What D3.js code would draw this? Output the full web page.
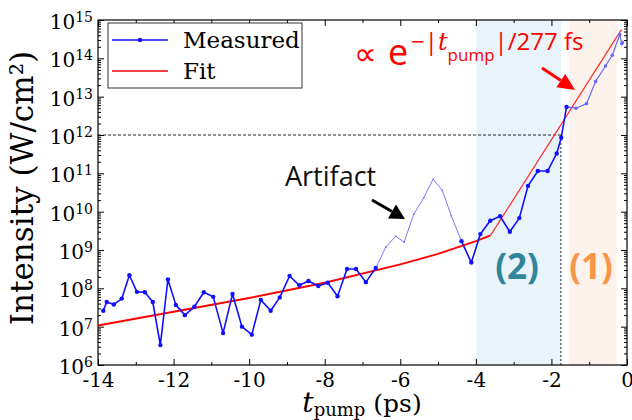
<!DOCTYPE html>
<html>
<head>
<meta charset="utf-8">
<script src="https://cdn.jsdelivr.net/npm/d3@7"></script>
<style>
  body { margin: 0; background: #fff; }
  svg { display: block; }
</style>
</head>
<body>
<script>
// measured intensity (W/cm^2) vs pump delay (ps), split where the trace changes style
const earlyT = [-13.86, -13.77, -13.58, -13.37, -13.17, -12.97, -12.76, -12.55, -12.35, -12.15,
    -11.94, -11.70, -11.45, -11.20, -10.95, -10.69, -10.44, -10.19, -9.93, -9.69,
    -9.43, -9.19, -8.93, -8.67, -8.43, -8.17, -7.92, -7.66, -7.41, -7.17, -6.91, -6.65];
const earlyI = [2.6e7, 4.4e7, 3.8e7, 5.4e7, 2.2e8, 8.1e7, 7.9e7, 4.4e7, 3.3e6, 1.7e8,
    3.7e7, 2.0e7, 3.3e7, 7.9e7, 6.0e7, 6.8e6, 7.1e7, 1.0e7, 6.2e6, 5.0e7,
    2.6e7, 5.8e7, 2.1e8, 1.2e8, 1.55e8, 1.15e8, 1.4e8, 6.2e7, 3.2e8, 3.2e8, 1.45e8, 3.4e8];
const artifactT = [-6.38, -6.12, -5.90, -5.64, -5.38, -5.13, -4.89, -4.65];
const artifactI = [1.2e9, 2.3e9, 1.6e9, 8.7e9, 2.3e10, 7.1e10, 3.6e10, 7.8e9];
const riseT = [-4.38, -4.12, -3.88, -3.62, -3.36, -3.10, -2.85, -2.62, -2.36, -2.10, -1.86, -1.74, -1.60];
const riseI = [1.7e9, 4.7e8, 2.6e9, 5.8e9, 7.6e9, 3.0e9, 6.8e9, 4.7e10, 1.15e11, 1.15e11, 3.3e11, 8.5e11, 5.4e12];
const peakT = [-1.35, -1.07, -0.83, -0.57, -0.39, -0.19, -0.14, -0.12];
const peakI = [5.0e12, 6.6e12, 2.5e13, 6.3e13, 1.2e14, 4.2e14, 2.4e14, 2.6e14];

// fit: slow rise then exp(-|t|/277 fs)
const fitT = [-14, -12, -10, -8, -6, -5, -4, -3.61, -0.15];
const fitI = [1.07e7, 2.45e7, 5.6e7, 1.4e8, 4.2e8, 7.9e8, 1.7e9, 2.4e9, 5.6e14];

const region2 = [-4, -1.75];
const region1 = [-1.54, -0.27];
const thresholdT = -1.75;
const thresholdI = 1e12;

const xTicks = [-14, -12, -10, -8, -6, -4, -2, 0];
const xMinor = [-13, -11, -9, -7, -5, -3, -1];
const yExps = [6, 7, 8, 9, 10, 11, 12, 13, 14, 15];

const width = 632, height = 420;
const mLeft = 98, mRight = 627, mTop = 20, mBottom = 365;
const serif = "'DejaVu Serif', serif";
const sans = "'Open Sans', 'DejaVu Sans', sans-serif";

const svg = d3.select("body").append("svg")
    .attr("width", width)
    .attr("height", height);

const x = d3.scaleLinear().domain([-14, 0]).range([mLeft, mRight]);
const y = d3.scaleLog().domain([1e6, 1e15]).range([mBottom, mTop]);

// shaded regions
svg.append("rect")
    .attr("x", x(region2[0])).attr("y", mTop)
    .attr("width", x(region2[1]) - x(region2[0])).attr("height", mBottom - mTop)
    .attr("fill", "#e8f4fa");
svg.append("rect")
    .attr("x", x(region1[0])).attr("y", mTop)
    .attr("width", x(region1[1]) - x(region1[0])).attr("height", mBottom - mTop)
    .attr("fill", "#fef3ec");

// threshold guide lines
svg.append("line")
    .attr("x1", mLeft).attr("x2", x(thresholdT))
    .attr("y1", y(thresholdI)).attr("y2", y(thresholdI))
    .attr("stroke", "#222").attr("stroke-width", 1).attr("stroke-dasharray", "3,2");
svg.append("line")
    .attr("x1", x(thresholdT)).attr("x2", x(thresholdT))
    .attr("y1", y(thresholdI)).attr("y2", mBottom)
    .attr("stroke", "#444").attr("stroke-width", 1.2).attr("stroke-dasharray", "2,2");

// minor ticks
const yMinor = [];
yExps.slice(0, -1).forEach(e => { for (let k = 2; k < 10; k++) yMinor.push(k * Math.pow(10, e)); });

const tickStyle = g => g.call(s => s.select(".domain").remove())
    .selectAll("line").attr("stroke", "#000");

svg.append("g").attr("transform", `translate(0,${mBottom})`)
    .call(d3.axisBottom(x).tickValues(xMinor).tickSize(-3).tickFormat(""))
    .call(tickStyle);
svg.append("g").attr("transform", `translate(0,${mTop})`)
    .call(d3.axisTop(x).tickValues(xMinor).tickSize(-3).tickFormat(""))
    .call(tickStyle);
svg.append("g").attr("transform", `translate(0,${mTop})`)
    .call(d3.axisTop(x).tickValues(xTicks).tickSize(-6).tickFormat(""))
    .call(tickStyle);
svg.append("g").attr("transform", `translate(${mLeft},0)`)
    .call(d3.axisLeft(y).tickValues(yMinor).tickSize(-3).tickFormat(""))
    .call(tickStyle);
svg.append("g").attr("transform", `translate(${mRight},0)`)
    .call(d3.axisRight(y).tickValues(yMinor).tickSize(-3).tickFormat(""))
    .call(tickStyle);
svg.append("g").attr("transform", `translate(${mRight},0)`)
    .call(d3.axisRight(y).tickValues(yExps.map(e => Math.pow(10, e))).tickSize(-6).tickFormat(""))
    .call(tickStyle);

// major x axis
const xAxis = svg.append("g").attr("transform", `translate(0,${mBottom})`)
    .call(d3.axisBottom(x).tickValues(xTicks).tickSize(-6).tickPadding(8).tickFormat(d3.format("d")))
    .call(tickStyle);
xAxis.selectAll("text")
    .attr("font-family", serif).attr("font-size", 20).attr("fill", "#000")
    .text(d => d === 0 ? "0" : "-" + Math.abs(d));

// major y axis with 10^n labels
const yAxis = svg.append("g").attr("transform", `translate(${mLeft},0)`)
    .call(d3.axisLeft(y).tickValues(yExps.map(e => Math.pow(10, e))).tickSize(-6).tickPadding(5).tickFormat(""))
    .call(tickStyle);
yAxis.selectAll(".tick text")
    .attr("font-family", serif).attr("font-size", 20).attr("fill", "#000")
    .attr("dy", "0.42em")
    .each(function(d) {
        const t = d3.select(this);
        t.text("10");
        t.append("tspan").attr("dy", "-0.5em").attr("font-size", 14)
            .text(Math.round(Math.log10(d)));
    });

// frame
svg.append("rect")
    .attr("x", mLeft).attr("y", mTop)
    .attr("width", mRight - mLeft).attr("height", mBottom - mTop)
    .attr("fill", "none").attr("stroke", "#000").attr("stroke-width", 1.2);

// fit line
const line = d3.line().x(d => x(d[0])).y(d => y(d[1]));
const fitPts = fitT.map((t, i) => [t, fitI[i]]);
svg.append("path").datum(fitPts.slice(0, 8))
    .attr("d", line).attr("fill", "none").attr("stroke", "#ff0000").attr("stroke-width", 1.9);
svg.append("path").datum(fitPts.slice(7))
    .attr("d", line).attr("fill", "none").attr("stroke", "#ff2a2a").attr("stroke-width", 1.2);

// measured trace
const early = earlyT.map((t, i) => [t, earlyI[i]]);
const artifact = artifactT.map((t, i) => [t, artifactI[i]]);
const rise = riseT.map((t, i) => [t, riseI[i]]);
const peak = peakT.map((t, i) => [t, peakI[i]]);

function trace(pts, color, w, r) {
    svg.append("path").datum(pts)
        .attr("d", line).attr("fill", "none").attr("stroke", color)
        .attr("stroke-width", w).attr("stroke-linejoin", "round");
    svg.append("g").selectAll("circle").data(pts).enter().append("circle")
        .attr("cx", d => x(d[0])).attr("cy", d => y(d[1])).attr("r", r).attr("fill", color);
}
trace([early[early.length - 1], ...artifact, rise[0]], "#7a7aff", 1, 0.9);
trace([rise[rise.length - 1], ...peak], "#6a6af2", 1.2, 1.8);
trace(early, "#1010ff", 1.6, 2.2);
trace(rise, "#1010ff", 1.6, 2.2);

// legend
const legend = svg.append("g");
legend.append("rect").attr("x", 108).attr("y", 23).attr("width", 194).attr("height", 65)
    .attr("fill", "#fff").attr("stroke", "#333").attr("stroke-width", 1);
legend.append("line").attr("x1", 112).attr("x2", 168).attr("y1", 40).attr("y2", 40)
    .attr("stroke", "#1010ff").attr("stroke-width", 1.6);
legend.append("circle").attr("cx", 140).attr("cy", 40).attr("r", 2.2).attr("fill", "#1010ff");
legend.append("line").attr("x1", 112).attr("x2", 168).attr("y1", 71).attr("y2", 71)
    .attr("stroke", "#ff0000").attr("stroke-width", 1.6);
legend.append("text").attr("x", 183).attr("y", 48).text("Measured")
    .attr("font-family", serif).attr("font-size", 23);
legend.append("text").attr("x", 183).attr("y", 79).text("Fit")
    .attr("font-family", serif).attr("font-size", 23);

// axis titles
svg.append("text")
    .attr("transform", "translate(33,188) rotate(-90)")
    .attr("text-anchor", "middle")
    .attr("font-family", serif).attr("font-size", 31)
    .text("Intensity (W/cm²)");

const xt = svg.append("text")
    .attr("x", 362).attr("y", 412).attr("text-anchor", "middle")
    .attr("font-family", serif).attr("font-size", 25);
xt.append("tspan").attr("font-style", "italic").attr("font-size", 28).text("t");
xt.append("tspan").attr("font-size", 18).attr("dy", 4).text("pump");
xt.append("tspan").attr("dy", -4).text(" (ps)");

// annotations
function arrow(x1, y1, x2, y2, color, w, hl, hw) {
    const a = Math.atan2(y2 - y1, x2 - x1);
    const bx = x2 - hl * Math.cos(a), by = y2 - hl * Math.sin(a);
    svg.append("line").attr("x1", x1).attr("y1", y1).attr("x2", bx).attr("y2", by)
        .attr("stroke", color).attr("stroke-width", w);
    const px = -Math.sin(a) * hw / 2, py = Math.cos(a) * hw / 2;
    svg.append("polygon")
        .attr("points", `${x2},${y2} ${bx + px},${by + py} ${bx - px},${by - py}`)
        .attr("fill", color);
}

svg.append("text").attr("x", 285).attr("y", 186).text("Artifact")
    .attr("font-family", sans).attr("font-size", 27).attr("fill", "#111");
arrow(372, 200, 405, 219, "#000", 3, 15, 16);

const red = "#ff0000";
svg.append("text").attr("x", 354).attr("y", 65).text("∝")
    .attr("font-family", sans).attr("font-size", 32).attr("fill", red);
svg.append("text").attr("x", 388).attr("y", 65).text("e")
    .attr("font-family", sans).attr("font-size", 36).attr("fill", red);
const sup = svg.append("text").attr("x", 411).attr("y", 50)
    .attr("font-family", sans).attr("font-size", 24).attr("fill", red);
sup.append("tspan").text("−|");
sup.append("tspan").attr("font-family", serif).attr("font-style", "italic").text("t");
sup.append("tspan").attr("font-size", 17).attr("dy", 11).text("pump");
sup.append("tspan").attr("dy", -11).text("|/277 fs");
arrow(542, 68, 575, 90, red, 3, 17, 16);

svg.append("text").attr("x", 517).attr("y", 279).attr("text-anchor", "middle").text("(2)")
    .attr("font-family", sans).attr("font-weight", "bold").attr("font-size", 35).attr("fill", "#31859c");
svg.append("text").attr("x", 591).attr("y", 279).attr("text-anchor", "middle").text("(1)")
    .attr("font-family", sans).attr("font-weight", "bold").attr("font-size", 35).attr("fill", "#f79646");
</script>
</body>
</html>
